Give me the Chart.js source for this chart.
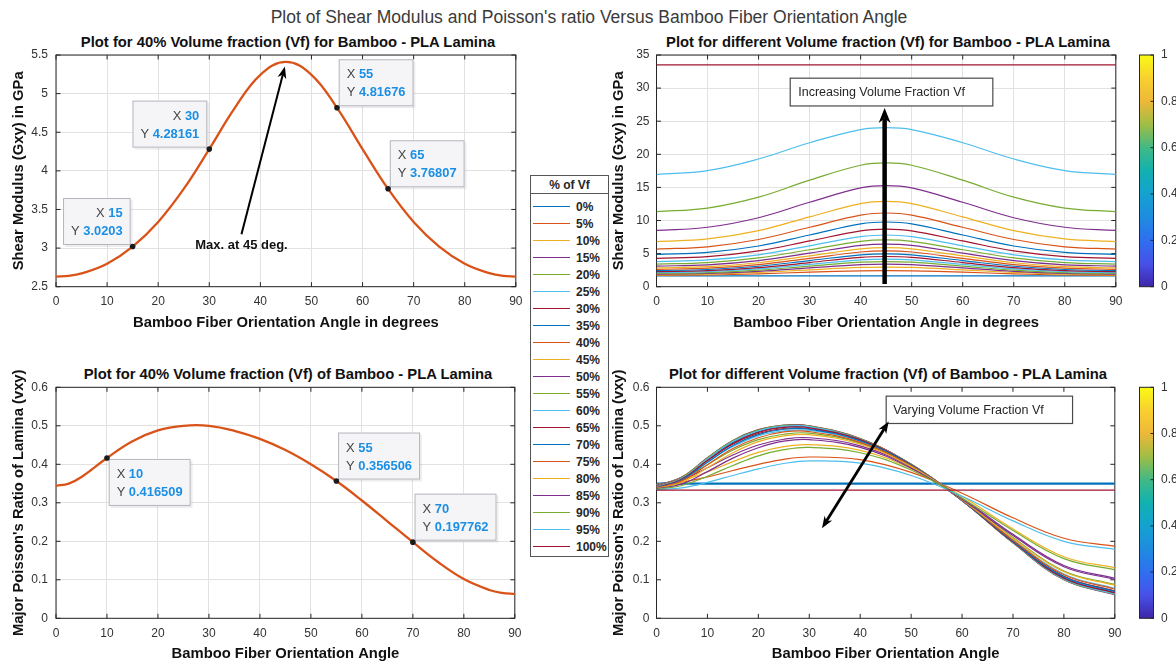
<!DOCTYPE html>
<html>
<head>
<meta charset="utf-8">
<title>Shear Modulus and Poisson's ratio vs Bamboo Fiber Orientation Angle</title>
<script src="https://cdn.jsdelivr.net/npm/chart.js@4.4.1/dist/chart.umd.min.js"></script>
<style>
  body { margin: 0; background: #fff; }
  #fig { position: relative; width: 1176px; height: 665px; overflow: hidden; background: #fff;
         font-family: "Liberation Sans", Arial, Helvetica, sans-serif; color: #262626; }
  #fig canvas { position: absolute; }
  .lbl { position: absolute; white-space: nowrap; transform: translate(-50%, -50%); }
  .sub { font-weight: bold; font-size: 14.8px; color: #111; }
  #sup { left: 589px; top: 17px; font-size: 17.5px; color: #3a3a3a; }
  #legend { position: absolute; left: 530px; top: 175px; width: 79px; height: 382px; box-sizing: border-box;
            border: 1px solid #555; background: #fff; font-weight: bold; font-size: 12px; color: #262626; z-index: 2; }
  #legend .hd { position: absolute; left: 0; right: 0; top: 9px; text-align: center; transform: translateY(-50%); }
  #legend .sep { position: absolute; left: 0; right: 0; top: 17px; height: 1px; background: #555; }
  #legend .row { position: absolute; left: 0; height: 0; }
  #legend .ln { position: absolute; left: 2px; top: -0.6px; width: 37px; height: 1.2px; }
  #legend .tx { position: absolute; left: 45px; top: 0; transform: translateY(-50%); line-height: 14px; }
</style>
</head>
<body>
<div id="fig">
  <div id="sup" class="lbl">Plot of Shear Modulus and Poisson's ratio Versus Bamboo Fiber Orientation Angle</div>
  <div class="lbl sub" style="left:288px; top:42px;">Plot for 40% Volume fraction (Vf) for Bamboo - PLA Lamina</div>
  <div class="lbl sub" style="left:888px; top:42px;">Plot for different Volume fraction (Vf) for Bamboo - PLA Lamina</div>
  <div class="lbl sub" style="left:288px; top:374px;">Plot for 40% Volume fraction (Vf) of Bamboo - PLA Lamina</div>
  <div class="lbl sub" style="left:888px; top:374px;">Plot for different Volume fraction (Vf) of Bamboo - PLA Lamina</div>

  <canvas id="tl" width="530" height="305" style="left:0; top:30px;"></canvas>
  <canvas id="bl" width="530" height="303" style="left:0; top:362px;"></canvas>
  <canvas id="tr" width="530" height="305" style="left:600px; top:30px;"></canvas>
  <canvas id="br" width="530" height="303" style="left:600px; top:362px;"></canvas>
  <canvas id="cbt" width="46" height="305" style="left:1130px; top:30px;"></canvas>
  <canvas id="cbb" width="46" height="303" style="left:1130px; top:362px;"></canvas>

  <div id="legend"><div class="hd">% of Vf</div><div class="sep"></div></div>
</div>

<script>
// ---- data ----
var angleTicks = [0, 10, 20, 30, 40, 50, 60, 70, 80, 90];
var shearTicks = [2.5, 3, 3.5, 4, 4.5, 5, 5.5];
var shearAllTicks = [0, 5, 10, 15, 20, 25, 30, 35];
var poissonTicks = [0, 0.1, 0.2, 0.3, 0.4, 0.5, 0.6];
var colorbarTicks = [0, 0.2, 0.4, 0.6, 0.8, 1];

// 40% Vf curves (left column)
var tlAngles = [0, 2.5, 5, 10, 15, 20, 25, 30, 35, 40, 45, 50, 55, 60, 65, 70, 75, 80, 85, 87.5, 90];
var tlShear = [2.630, 2.640, 2.672, 2.798, 3.020, 3.339, 3.766, 4.282, 4.816, 5.244, 5.410,
               5.244, 4.816, 4.282, 3.766, 3.339, 3.020, 2.798, 2.672, 2.640, 2.630];
var blPoisson = [0.344, 0.350, 0.367, 0.4165, 0.460, 0.488, 0.500, 0.500, 0.487, 0.466, 0.437,
                 0.400, 0.3565, 0.306, 0.252, 0.1978, 0.1455, 0.102, 0.0736, 0.066, 0.0635];

// data tips
var tlTipX = [15, 30, 55, 65];
var tlTipY = [3.0203, 4.28161, 4.81676, 3.76807];
var blTipX = [10, 55, 70];
var blTipY = [0.416509, 0.356506, 0.197762];

// all volume fractions (right column)
var vfLabels = ['0%', '5%', '10%', '15%', '20%', '25%', '30%', '35%', '40%', '45%', '50%',
                '55%', '60%', '65%', '70%', '75%', '80%', '85%', '90%', '95%', '100%'];
var gAngles = [0, 10, 20, 30, 40, 45, 50, 60, 70, 80, 90];
var shearVf = [
  [1.63, 1.63, 1.63, 1.63, 1.63, 1.63, 1.63, 1.63, 1.63, 1.63, 1.63],
  [1.71, 1.77, 1.95, 2.19, 2.39, 2.42, 2.39, 2.19, 1.95, 1.77, 1.71],
  [1.80, 1.89, 2.15, 2.55, 2.91, 2.96, 2.91, 2.55, 2.15, 1.89, 1.80],
  [1.90, 2.00, 2.32, 2.84, 3.32, 3.40, 3.32, 2.84, 2.32, 2.00, 1.90],
  [2.01, 2.13, 2.50, 3.11, 3.70, 3.80, 3.70, 3.11, 2.50, 2.13, 2.01],
  [2.14, 2.27, 2.68, 3.37, 4.06, 4.18, 4.06, 3.37, 2.68, 2.27, 2.14],
  [2.28, 2.42, 2.87, 3.65, 4.43, 4.56, 4.43, 3.65, 2.87, 2.42, 2.28],
  [2.44, 2.60, 3.09, 3.95, 4.82, 4.97, 4.82, 3.95, 3.09, 2.60, 2.44],
  [2.63, 2.80, 3.34, 4.28, 5.24, 5.41, 5.24, 4.28, 3.34, 2.80, 2.63],
  [2.85, 3.03, 3.62, 4.65, 5.71, 5.90, 5.71, 4.65, 3.62, 3.03, 2.85],
  [3.11, 3.31, 3.95, 5.08, 6.24, 6.44, 6.24, 5.08, 3.95, 3.31, 3.11],
  [3.42, 3.64, 4.35, 5.58, 6.85, 7.07, 6.85, 5.58, 4.35, 3.64, 3.42],
  [3.80, 4.04, 4.82, 6.18, 7.57, 7.81, 7.57, 6.18, 4.82, 4.04, 3.80],
  [4.27, 4.54, 5.41, 6.91, 8.43, 8.69, 8.43, 6.91, 5.41, 4.54, 4.27],
  [4.88, 5.18, 6.15, 7.81, 9.49, 9.77, 9.49, 7.81, 6.15, 5.18, 4.88],
  [5.69, 6.03, 7.13, 8.98, 10.82, 11.13, 10.82, 8.98, 7.13, 6.03, 5.69],
  [6.82, 7.22, 8.47, 10.55, 12.56, 12.89, 12.56, 10.55, 8.47, 7.22, 6.82],
  [8.51, 8.98, 10.42, 12.75, 14.92, 15.28, 14.92, 12.75, 10.42, 8.98, 8.51],
  [11.33, 11.88, 13.53, 16.09, 18.34, 18.70, 18.34, 16.09, 13.53, 11.88, 11.33],
  [16.94, 17.54, 19.29, 21.75, 23.73, 24.03, 23.73, 21.75, 19.29, 17.54, 16.94],
  [33.5, 33.5, 33.5, 33.5, 33.5, 33.5, 33.5, 33.5, 33.5, 33.5, 33.5]
];
var nuAngles = [0, 5, 10, 15, 20, 25, 30, 40, 50, 60, 70, 80, 90];
var poissonVf = [
  [0.350, 0.350, 0.350, 0.350, 0.350, 0.350, 0.350, 0.350, 0.350, 0.350, 0.350, 0.350, 0.350],
  [0.349, 0.354, 0.367, 0.384, 0.400, 0.413, 0.419, 0.412, 0.379, 0.325, 0.261, 0.208, 0.187],
  [0.348, 0.358, 0.380, 0.407, 0.431, 0.446, 0.451, 0.436, 0.389, 0.317, 0.232, 0.160, 0.131],
  [0.348, 0.360, 0.391, 0.424, 0.450, 0.465, 0.469, 0.448, 0.393, 0.312, 0.218, 0.137, 0.104],
  [0.347, 0.363, 0.399, 0.437, 0.464, 0.478, 0.481, 0.455, 0.396, 0.310, 0.210, 0.123, 0.088],
  [0.346, 0.364, 0.406, 0.446, 0.474, 0.487, 0.488, 0.460, 0.398, 0.309, 0.205, 0.115, 0.078],
  [0.345, 0.366, 0.410, 0.453, 0.480, 0.493, 0.493, 0.463, 0.399, 0.308, 0.201, 0.109, 0.071],
  [0.344, 0.367, 0.414, 0.457, 0.485, 0.497, 0.497, 0.465, 0.400, 0.307, 0.199, 0.105, 0.067],
  [0.343, 0.367, 0.416, 0.460, 0.488, 0.500, 0.499, 0.466, 0.400, 0.306, 0.197, 0.102, 0.064],
  [0.343, 0.367, 0.417, 0.462, 0.490, 0.501, 0.500, 0.467, 0.400, 0.306, 0.196, 0.101, 0.062],
  [0.342, 0.366, 0.417, 0.462, 0.490, 0.502, 0.500, 0.467, 0.400, 0.306, 0.196, 0.100, 0.061],
  [0.341, 0.365, 0.416, 0.461, 0.489, 0.501, 0.499, 0.466, 0.400, 0.306, 0.196, 0.101, 0.062],
  [0.340, 0.364, 0.414, 0.459, 0.487, 0.499, 0.498, 0.465, 0.399, 0.306, 0.197, 0.102, 0.063],
  [0.339, 0.362, 0.410, 0.454, 0.483, 0.496, 0.495, 0.464, 0.399, 0.306, 0.198, 0.104, 0.066],
  [0.338, 0.360, 0.405, 0.449, 0.477, 0.491, 0.491, 0.461, 0.398, 0.306, 0.200, 0.108, 0.070],
  [0.338, 0.357, 0.399, 0.441, 0.469, 0.484, 0.485, 0.457, 0.396, 0.307, 0.203, 0.113, 0.076],
  [0.337, 0.353, 0.391, 0.430, 0.459, 0.474, 0.477, 0.452, 0.394, 0.308, 0.208, 0.121, 0.086],
  [0.336, 0.349, 0.381, 0.416, 0.443, 0.460, 0.464, 0.444, 0.390, 0.309, 0.215, 0.134, 0.101],
  [0.335, 0.345, 0.369, 0.397, 0.422, 0.438, 0.444, 0.430, 0.385, 0.312, 0.228, 0.155, 0.126],
  [0.334, 0.339, 0.353, 0.371, 0.388, 0.402, 0.409, 0.403, 0.371, 0.317, 0.253, 0.200, 0.179],
  [0.333, 0.333, 0.333, 0.333, 0.333, 0.333, 0.333, 0.333, 0.333, 0.333, 0.333, 0.333, 0.333]
];

// ---- styles ----
var FAMILY = '"Liberation Sans", Arial, Helvetica, sans-serif';
var INK = '#262626', TICK = '#333333', GRID = '#e2e2e2';
var colorOrder = ['#0072BD', '#D95319', '#EDB120', '#7E2F8E', '#77AC30', '#4DBEEE', '#A2142F'];
var parula = [[0, '#3e26a8'], [0.1, '#4751e8'], [0.2, '#2f6ff0'], [0.3, '#1e8ce0'], [0.4, '#14a2d0'],
              [0.5, '#12b1b0'], [0.6, '#41b985'], [0.7, '#a0bd45'], [0.8, '#eeb838'], [0.9, '#f8d030'], [1, '#f9fb14']];

Chart.defaults.font.family = FAMILY;

function fmt(v) { return String(Math.round(v * 1000) / 1000); }
function pts(xs, ys) { return xs.map(function (x, i) { return { x: x, y: ys[i] }; }); }
function setTicks(arr) { return function (s) { s.ticks = arr.map(function (v) { return { value: v }; }); }; }

// box + inward tick marks, like MATLAB axes
var matlabAxes = {
  id: 'matlabAxes',
  beforeDatasetsDraw: function (chart) {
    var ctx = chart.ctx, a = chart.chartArea, x = chart.scales.x, y = chart.scales.y, L = 4.5;
    ctx.save();
    ctx.strokeStyle = INK; ctx.lineWidth = 1;
    ctx.beginPath();
    x.ticks.forEach(function (t) {
      var p = x.getPixelForValue(t.value);
      ctx.moveTo(p, a.bottom); ctx.lineTo(p, a.bottom - L);
      ctx.moveTo(p, a.top); ctx.lineTo(p, a.top + L);
    });
    y.ticks.forEach(function (t) {
      var p = y.getPixelForValue(t.value);
      ctx.moveTo(a.left, p); ctx.lineTo(a.left + L, p);
      ctx.moveTo(a.right, p); ctx.lineTo(a.right - L, p);
    });
    ctx.stroke();
    ctx.strokeRect(a.left, a.top, a.right - a.left, a.bottom - a.top);
    ctx.restore();
  }
};

// MATLAB style data tips
var datatips = {
  id: 'datatips',
  afterDatasetsDraw: function (chart, args, o) {
    var ctx = chart.ctx, x = chart.scales.x, y = chart.scales.y;
    var fN = '12.9px ' + FAMILY, fB = 'bold 12.9px ' + FAMILY;
    (o.tips || []).forEach(function (t) {
      var px = x.getPixelForValue(t.x), py = y.getPixelForValue(t.y);
      var lines = [['X', fmt(t.x)], ['Y', String(t.y)]];
      ctx.save();
      ctx.font = fN; var wN = ctx.measureText('Y ').width;
      ctx.font = fB;
      var wV = Math.max(ctx.measureText(lines[0][1]).width, ctx.measureText(lines[1][1]).width);
      var w = wN + wV + 16, h = 47;
      var bx = t.side === 'left' ? px - 2 - w : px + 1.7;
      var by = t.vert === 'up' ? py - 1.5 - h : py + 1;
      ctx.fillStyle = 'rgba(0,0,0,0.07)'; ctx.fillRect(bx + 2, by + 2, w, h);
      ctx.fillStyle = '#f5f5f8'; ctx.fillRect(bx, by, w, h);
      ctx.strokeStyle = '#b6b6be'; ctx.lineWidth = 1; ctx.strokeRect(bx + 0.5, by + 0.5, w - 1, h - 1);
      ctx.textBaseline = 'middle'; ctx.textAlign = 'left';
      lines.forEach(function (l, i) {
        var cy = by + 15.5 + i * 18;
        ctx.font = fB; var vw = ctx.measureText(l[1]).width;
        ctx.font = fN; var lw = ctx.measureText(l[0] + ' ').width;
        var sx = t.side === 'left' ? bx + w - 8 - vw - lw : bx + 8;
        ctx.fillStyle = '#444'; ctx.fillText(l[0], sx, cy);
        ctx.font = fB; ctx.fillStyle = '#1a8fe3'; ctx.fillText(l[1], sx + lw, cy);
      });
      ctx.beginPath(); ctx.arc(px, py, 2.8, 0, Math.PI * 2);
      ctx.fillStyle = '#1a1a1a'; ctx.fill();
      ctx.restore();
    });
  }
};

function arrowHead(ctx, tx, ty, ux, uy, hl, hw) {
  var nx = -uy, ny = ux, bx = tx - ux * hl, by = ty - uy * hl;
  ctx.beginPath();
  ctx.moveTo(tx, ty);
  ctx.lineTo(bx + nx * hw / 2, by + ny * hw / 2);
  ctx.lineTo(bx + ux * hl * 0.3, by + uy * hl * 0.3);
  ctx.lineTo(bx - nx * hw / 2, by - ny * hw / 2);
  ctx.closePath();
  ctx.fill();
}

// annotations: arrows, text boxes, free text
var notes = {
  id: 'notes',
  afterDatasetsDraw: function (chart, args, o) {
    var ctx = chart.ctx, x = chart.scales.x, y = chart.scales.y;
    function P(p) { return [x.getPixelForValue(p[0]), y.getPixelForValue(p[1])]; }
    ctx.save();
    (o.boxes || []).forEach(function (b) {
      var p0 = P(b.from), p1 = P(b.to);
      ctx.fillStyle = '#fff'; ctx.fillRect(p0[0], p0[1], p1[0] - p0[0], p1[1] - p0[1]);
      ctx.strokeStyle = '#4a4a4a'; ctx.lineWidth = 1.2;
      ctx.strokeRect(p0[0], p0[1], p1[0] - p0[0], p1[1] - p0[1]);
      ctx.font = '12.5px ' + FAMILY; ctx.fillStyle = '#262626';
      ctx.textBaseline = 'middle'; ctx.textAlign = 'left';
      ctx.fillText(b.text, p0[0] + b.pad, (p0[1] + p1[1]) / 2 + 0.5);
    });
    (o.arrows || []).forEach(function (a) {
      var p0 = P(a.from), p1 = P(a.to);
      var dx = p1[0] - p0[0], dy = p1[1] - p0[1], len = Math.sqrt(dx * dx + dy * dy);
      var ux = dx / len, uy = dy / len;
      var s0 = a.both ? a.hl * 0.7 : 0, s1 = a.hl * 0.7;
      ctx.strokeStyle = '#000'; ctx.fillStyle = '#000'; ctx.lineWidth = a.w;
      ctx.beginPath();
      ctx.moveTo(p0[0] + ux * s0, p0[1] + uy * s0);
      ctx.lineTo(p1[0] - ux * s1, p1[1] - uy * s1);
      ctx.stroke();
      arrowHead(ctx, p1[0], p1[1], ux, uy, a.hl, a.hw);
      if (a.both) arrowHead(ctx, p0[0], p0[1], -ux, -uy, a.hl, a.hw);
    });
    (o.texts || []).forEach(function (t) {
      var p = P(t.at);
      ctx.font = 'bold 13px ' + FAMILY; ctx.fillStyle = '#111';
      ctx.textAlign = 'center'; ctx.textBaseline = 'middle';
      ctx.fillText(t.text, p[0], p[1]);
    });
    ctx.restore();
  }
};

function axesOptions(c) {
  return {
    responsive: false, animation: false, events: [], devicePixelRatio: 1,
    layout: { padding: { left: 0, right: c.padR, top: c.padT, bottom: 0 } },
    plugins: {
      legend: { display: false }, tooltip: { enabled: false }, title: { display: false },
      datatips: { tips: c.tips || [] },
      notes: c.notes || {}
    },
    elements: { point: { radius: 0 } },
    scales: {
      x: {
        type: 'linear', min: 0, max: 90,
        afterBuildTicks: setTicks(angleTicks),
        afterFit: function (s) { s.height = c.xH; },
        grid: { display: c.grid, color: GRID, drawTicks: false },
        border: { display: false },
        ticks: { padding: c.xTickPad, color: TICK, font: { size: 12 }, maxRotation: 0, callback: fmt },
        title: { display: true, text: c.xTitle, color: '#111', font: { size: 14.8, weight: 'bold' },
                 padding: { top: 0, bottom: c.xTitlePad } }
      },
      y: {
        type: 'linear', min: c.yMin, max: c.yMax,
        afterBuildTicks: setTicks(c.yTicks),
        afterFit: function (s) { s.width = c.yW; },
        grid: { display: c.grid, color: GRID, drawTicks: false },
        border: { display: false },
        ticks: { padding: c.yTickPad, color: TICK, font: { size: 12 }, callback: fmt },
        title: { display: true, text: c.yTitle, color: '#111', font: { size: 14.8, weight: 'bold' },
                 padding: { top: c.yTitlePad, bottom: 0 } }
      }
    }
  };
}

function panel(id, datasets, c) {
  return new Chart(document.getElementById(id), {
    type: 'line',
    data: { datasets: datasets },
    options: axesOptions(c),
    plugins: [matlabAxes, datatips, notes]
  });
}

function series(xs, ys, color, width, order) {
  return { data: pts(xs, ys), borderColor: color, borderWidth: width, fill: false,
           tension: 0.4, pointRadius: 0, order: order };
}

// ---- top left ----
panel('tl', [series(tlAngles, tlShear, '#D95319', 2.3, 0)], {
  padR: 10.5, padT: 25, xH: 48.3, yW: 56, grid: true,
  yMin: 2.5, yMax: 5.5, yTicks: shearTicks,
  xTickPad: 7.5, yTickPad: 8, xTitlePad: 3.4, yTitlePad: 9.7,
  xTitle: 'Bamboo Fiber Orientation Angle in degrees', yTitle: 'Shear Modulus (Gxy) in GPa',
  tips: [
    { x: tlTipX[0], y: tlTipY[0], side: 'left', vert: 'up' },
    { x: tlTipX[1], y: tlTipY[1], side: 'left', vert: 'up' },
    { x: tlTipX[2], y: tlTipY[2], side: 'right', vert: 'up' },
    { x: tlTipX[3], y: tlTipY[3], side: 'right', vert: 'up' }
  ],
  notes: {
    arrows: [{ from: [36.3, 3.18], to: [44.8, 5.35], w: 2, hl: 12, hw: 9 }],
    texts: [{ at: [36.3, 3.03], text: 'Max. at 45 deg.' }]
  }
});

// ---- bottom left ----
panel('bl', [series(tlAngles, blPoisson, '#D95319', 2.3, 0)], {
  padR: 10.5, padT: 25.3, xH: 46.7, yW: 56, grid: true,
  yMin: 0, yMax: 0.6, yTicks: poissonTicks,
  xTickPad: 8.5, yTickPad: 8, xTitlePad: 2.1, yTitlePad: 9.7,
  xTitle: 'Bamboo Fiber Orientation Angle', yTitle: "Major Poisson's Ratio of Lamina (vxy)",
  tips: [
    { x: blTipX[0], y: blTipY[0], side: 'right', vert: 'down' },
    { x: blTipX[1], y: blTipY[1], side: 'right', vert: 'up' },
    { x: blTipX[2], y: blTipY[2], side: 'right', vert: 'up' }
  ]
});

// ---- top right ----
panel('tr', shearVf.map(function (row, i) {
  return series(gAngles, row, colorOrder[i % 7], 1.2, 100 - i);
}), {
  padR: 10, padT: 25, xH: 48.3, yW: 56.5, grid: true,
  yMin: 0, yMax: 35, yTicks: shearAllTicks,
  xTickPad: 7.5, yTickPad: 7, xTitlePad: 3.4, yTitlePad: 10.1,
  xTitle: 'Bamboo Fiber Orientation Angle in degrees', yTitle: 'Shear Modulus (Gxy) in GPa',
  notes: {
    boxes: [{ from: [26.2, 31.5], to: [65.9, 27.3], text: 'Increasing Volume Fraction Vf', pad: 8 }],
    arrows: [{ from: [44.7, 0.4], to: [44.7, 27.0], w: 4.5, hl: 15, hw: 12 }]
  }
});

// ---- bottom right ----
panel('br', poissonVf.map(function (row, i) {
  return series(nuAngles, row, colorOrder[i % 7], i === 0 ? 2.2 : 1.2, 100 - i);
}), {
  padR: 10, padT: 25.3, xH: 46.7, yW: 56.5, grid: false,
  yMin: 0, yMax: 0.6, yTicks: poissonTicks,
  xTickPad: 8.5, yTickPad: 7, xTitlePad: 2.1, yTitlePad: 10.1,
  xTitle: 'Bamboo Fiber Orientation Angle', yTitle: "Major Poisson's Ratio of Lamina (vxy)",
  notes: {
    boxes: [{ from: [45.1, 0.577], to: [81.7, 0.506], text: 'Varying Volume Fraction Vf', pad: 7 }],
    arrows: [{ from: [32.5, 0.234], to: [45.6, 0.511], w: 2.8, hl: 12, hw: 9, both: true }]
  }
});

// ---- colorbars ----
var colorbar = {
  id: 'colorbar',
  beforeDatasetsDraw: function (chart) {
    var ctx = chart.ctx, a = chart.chartArea, y = chart.scales.y;
    var g = ctx.createLinearGradient(0, a.bottom, 0, a.top);
    parula.forEach(function (s) { g.addColorStop(s[0], s[1]); });
    ctx.save();
    ctx.fillStyle = g; ctx.fillRect(a.left, a.top, a.right - a.left, a.bottom - a.top);
    ctx.strokeStyle = INK; ctx.lineWidth = 1;
    ctx.strokeRect(a.left, a.top, a.right - a.left, a.bottom - a.top);
    ctx.beginPath();
    y.ticks.forEach(function (t) {
      var p = y.getPixelForValue(t.value);
      ctx.moveTo(a.right, p); ctx.lineTo(a.right - 3, p);
    });
    ctx.stroke();
    ctx.restore();
  }
};

function colorbarChart(id, padT, padB) {
  return new Chart(document.getElementById(id), {
    type: 'scatter',
    data: { datasets: [{ data: [] }] },
    options: {
      responsive: false, animation: false, events: [], devicePixelRatio: 1,
      layout: { padding: { left: 9.5, right: 0, top: padT, bottom: padB } },
      plugins: { legend: { display: false }, tooltip: { enabled: false } },
      scales: {
        x: { display: false, min: 0, max: 1 },
        y: {
          position: 'right', min: 0, max: 1,
          afterBuildTicks: setTicks(colorbarTicks),
          afterFit: function (s) { s.width = 22.5; },
          grid: { display: false, drawTicks: false },
          border: { display: false },
          ticks: { padding: 7.5, color: TICK, font: { size: 12 }, callback: fmt }
        }
      }
    },
    plugins: [colorbar]
  });
}
colorbarChart('cbt', 25, 48.3);
colorbarChart('cbb', 25.3, 46.7);

// ---- shared legend ----
var leg = document.getElementById('legend');
vfLabels.forEach(function (lab, i) {
  var row = document.createElement('div');
  row.className = 'row';
  row.style.top = (30.7 + 17 * i) + 'px';
  row.innerHTML = '<span class="ln" style="background:' + colorOrder[i % 7] + '"></span>' +
                  '<span class="tx">' + lab + '</span>';
  leg.appendChild(row);
});
</script>
</body>
</html>
